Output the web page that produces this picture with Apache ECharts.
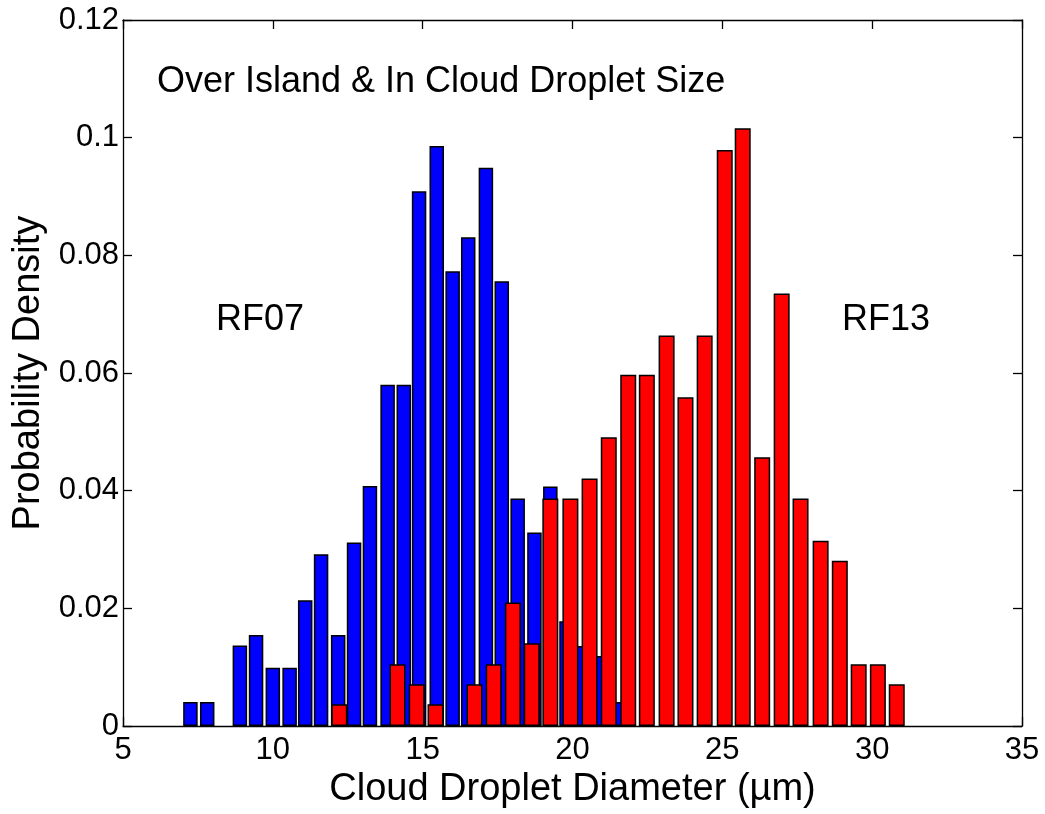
<!DOCTYPE html>
<html>
<head>
<meta charset="utf-8">
<script src="https://cdn.jsdelivr.net/npm/echarts@6/dist/echarts.min.js"></script>
<style>
html,body{margin:0;padding:0;background:#fff;}
#chart{width:1045px;height:814px;}
</style>
</head>
<body>
<div id="chart"></div>
<script>
// ---- data ----
// RF07 (blue) bin centres and probability densities
const rf07X = [7.25, 7.81, 8.90, 9.44, 10.00, 10.56, 11.08, 11.61, 12.18, 12.71, 13.24, 13.83, 14.37, 14.88, 15.47, 16.00, 16.52, 17.11, 17.64, 18.17, 18.73, 19.26, 19.80, 20.35, 20.89, 21.44];
const rf07Y = [0.0041, 0.0041, 0.0137, 0.0155, 0.0099, 0.0099, 0.0214, 0.0292, 0.0155, 0.0312, 0.0408, 0.0580, 0.0580, 0.0909, 0.0986, 0.0773, 0.0831, 0.0949, 0.0756, 0.0387, 0.0329, 0.0407, 0.0178, 0.0136, 0.0119, 0.0041];
// RF13 (red) bin centres and probability densities
const rf13X = [12.22, 14.16, 14.80, 15.43, 16.73, 17.37, 18.01, 18.64, 19.26, 19.93, 20.57, 21.21, 21.86, 22.48, 23.14, 23.77, 24.41, 25.08, 25.68, 26.33, 26.98, 27.61, 28.28, 28.92, 29.55, 30.19, 30.82];
const rf13Y = [0.0037, 0.0105, 0.0071, 0.0037, 0.0071, 0.0105, 0.0210, 0.0141, 0.0387, 0.0387, 0.0421, 0.0491, 0.0597, 0.0597, 0.0664, 0.0559, 0.0664, 0.0979, 0.1016, 0.0457, 0.0735, 0.0387, 0.0315, 0.0281, 0.0105, 0.0105, 0.0071];
// axis ticks
const xTicks = [5, 10, 15, 20, 25, 30, 35];
const yTicks = [0, 0.02, 0.04, 0.06, 0.08, 0.1, 0.12];

const titleText = 'Over Island & In Cloud Droplet Size';
const xName = 'Cloud Droplet Diameter (µm)';
const yName = 'Probability Density';
const labelA = 'RF07';
const labelB = 'RF13';

const FONT = '"Liberation Sans", Arial, Helvetica, sans-serif';

const chart = echarts.init(document.getElementById('chart'), null, {renderer: 'canvas'});

const xStep = xTicks[1] - xTicks[0];
const yStep = yTicks[1] - yTicks[0];

function xAxisDef(pos, withLabels) {
  return {
    type: 'value',
    position: pos,
    min: xTicks[0], max: xTicks[xTicks.length - 1], interval: xStep,
    axisLine: {show: true, onZero: false, lineStyle: {color: '#000', width: 1.3}},
    axisTick: {show: true, inside: true, length: 9, lineStyle: {color: '#000', width: 1.3}},
    axisLabel: {show: withLabels, fontSize: 31, color: '#000', fontFamily: FONT, margin: 9},
    splitLine: {show: false},
    name: withLabels ? xName : '',
    nameLocation: 'middle',
    nameGap: 42,
    nameTextStyle: {fontSize: 38, color: '#000', fontFamily: FONT}
  };
}
function yAxisDef(pos, withLabels) {
  return {
    type: 'value',
    position: pos,
    min: yTicks[0], max: yTicks[yTicks.length - 1], interval: yStep,
    axisLine: {show: true, onZero: false, lineStyle: {color: '#000', width: 1.3}},
    axisTick: {show: true, inside: true, length: 9, lineStyle: {color: '#000', width: 1.3}},
    axisLabel: {show: withLabels, fontSize: 31, color: '#000', fontFamily: FONT, margin: 4,
      formatter: v => String(Math.round(v * 100) / 100)},
    splitLine: {show: false},
    name: withLabels ? yName : '',
    nameLocation: 'middle',
    nameGap: 73,
    nameRotate: 90,
    nameTextStyle: {fontSize: 38, color: '#000', fontFamily: FONT}
  };
}

const option = {
  backgroundColor: '#fff',
  animation: false,
  grid: {left: 123, right: 23, top: 20, bottom: 85, containLabel: false},
  xAxis: [xAxisDef('bottom', true), xAxisDef('top', false)],
  yAxis: [yAxisDef('left', true), yAxisDef('right', false)],
  series: [
    {
      name: labelA, type: 'bar', xAxisIndex: 0, yAxisIndex: 0,
      barWidth: 14.5,
      data: rf07X.map((x, i) => [x, rf07Y[i]]),
      itemStyle: {color: '#0000ff', borderColor: '#000', borderWidth: 1.5},
      z: 2
    },
    {
      name: labelB, type: 'bar', xAxisIndex: 1, yAxisIndex: 0,
      barWidth: 16,
      data: rf13X.map((x, i) => [x, rf13Y[i]]),
      itemStyle: {color: '#ff0000', borderColor: '#000', borderWidth: 1.5},
      z: 3
    }
  ],
  graphic: [
    {type: 'text', x: 157, y: 82, z: 10,
      style: {text: titleText, font: '36px ' + FONT, fill: '#000', align: 'left', verticalAlign: 'middle'}},
    {type: 'text', x: 260, y: 320, z: 10,
      style: {text: labelA, font: '36px ' + FONT, fill: '#000', align: 'center', verticalAlign: 'middle'}},
    {type: 'text', x: 886, y: 320, z: 10,
      style: {text: labelB, font: '36px ' + FONT, fill: '#000', align: 'center', verticalAlign: 'middle'}}
  ]
};
chart.setOption(option);
</script>
</body>
</html>
